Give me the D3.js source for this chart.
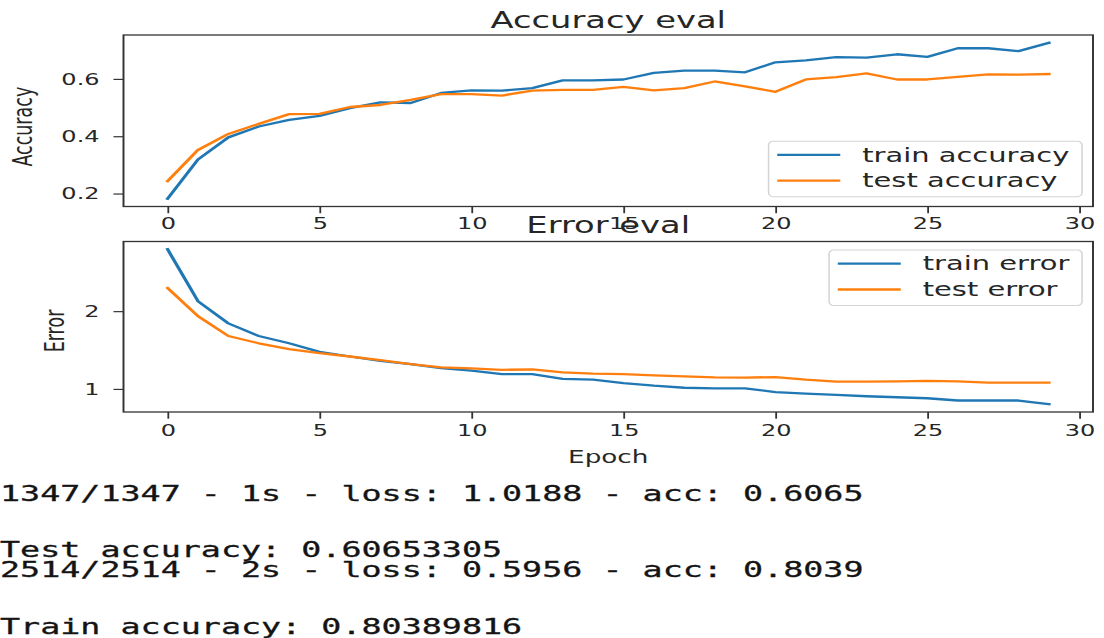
<!DOCTYPE html>
<html>
<head>
<meta charset="utf-8">
<script src="https://cdn.jsdelivr.net/npm/d3@7"></script>
<style>
  body { margin: 0; background: #fff; }
  svg { display: block; }
</style>
</head>
<body>
<div id="chart"></div>
<script>
// epochs on the x axis
var epochs = [0,1,2,3,4,5,6,7,8,9,10,11,12,13,14,15,16,17,18,19,20,21,22,23,24,25,26,27,28,29];

// accuracy per epoch
var trainAcc = [0.182,0.319,0.396,0.434,0.457,0.471,0.498,0.518,0.516,0.551,
                0.560,0.559,0.568,0.595,0.595,0.598,0.621,0.629,0.629,0.623,
                0.658,0.665,0.676,0.674,0.686,0.677,0.707,0.707,0.697,0.726];
var testAcc  = [0.243,0.352,0.408,0.443,0.477,0.478,0.502,0.509,0.527,0.547,
                0.547,0.542,0.559,0.562,0.562,0.572,0.560,0.568,0.591,0.574,
                0.555,0.598,0.606,0.619,0.598,0.598,0.607,0.616,0.615,0.617];

// error (loss) per epoch
var trainErr = [2.796,2.128,1.843,1.681,1.587,1.476,1.417,1.361,1.319,1.268,
                1.234,1.191,1.190,1.128,1.119,1.075,1.042,1.015,1.008,1.008,
                0.960,0.940,0.923,0.906,0.893,0.880,0.851,0.851,0.851,0.803];
var testErr  = [2.298,1.936,1.681,1.587,1.511,1.460,1.417,1.370,1.319,1.276,
                1.263,1.246,1.250,1.212,1.196,1.191,1.175,1.161,1.148,1.145,
                1.153,1.119,1.093,1.093,1.097,1.104,1.097,1.080,1.080,1.080];

// tick values and labels
var xTicks = [0,5,10,15,20,25,30];
var accTicks = [0.2,0.4,0.6];
var errTicks = [1,2];

// console output printed under the figure
var consoleLines = [
  "1347/1347 - 1s - loss: 1.0188 - acc: 0.6065",
  "Test accuracy: 0.60653305",
  "2514/2514 - 2s - loss: 0.5956 - acc: 0.8039",
  "Train accuracy: 0.80389816"
];
var consoleBaselines = [501, 557, 577, 634];

// The screenshot is stretched sideways, so everything is drawn
// in an unstretched space and then scaled by SX.
var SX = 1.5;
var blue = "#1f77b4", orange = "#ff7f0e";
var ink = "#262626";
var axLeft = 123.5 / SX, axRight = 1093 / SX;

var svg = d3.select("#chart").append("svg")
    .attr("width", 1104)
    .attr("height", 638);

svg.append("rect").attr("width", 1104).attr("height", 638).attr("fill", "#fff");

var root = svg.append("g").attr("transform", "scale(" + SX + ",1)");

var x = d3.scaleLinear()
    .domain([-1.45, 30.45])
    .range([axLeft, axRight]);

function padded(arrs) {
  var lo = d3.min(arrs, function(a) { return d3.min(a); });
  var hi = d3.max(arrs, function(a) { return d3.max(a); });
  var p = (hi - lo) * 0.05;
  return [lo - p, hi + p];
}

function drawPanel(cfg) {
  var g = root.append("g");
  var y = d3.scaleLinear()
      .domain(padded(cfg.series.map(function(s) { return s.values; })))
      .range([cfg.bottom, cfg.top]);

  // x axis
  var xa = g.append("g")
      .attr("transform", "translate(0," + cfg.bottom + ")")
      .call(d3.axisBottom(x).tickValues(xTicks).tickSize(6.7).tickPadding(cfg.xPad).tickFormat(d3.format("d")));
  xa.select(".domain").remove();
  xa.selectAll("line").attr("stroke", "#333").attr("stroke-width", 1.2);
  xa.selectAll("text").attr("fill", ink).style("font", "16px 'DejaVu Sans'");

  // y axis
  var ya = g.append("g")
      .attr("transform", "translate(" + axLeft + ",0)")
      .call(d3.axisLeft(y).tickValues(cfg.yTicks).tickSize(6.7).tickPadding(9.3).tickFormat(cfg.yFmt));
  ya.select(".domain").remove();
  ya.selectAll("line").attr("stroke", "#333").attr("stroke-width", 1.2);
  ya.selectAll("text").attr("fill", ink).attr("dy", "0.33em").style("font", "16px 'DejaVu Sans'");

  // lines
  var line = d3.line()
      .x(function(d, i) { return x(epochs[i]); })
      .y(function(d) { return y(d); });
  cfg.series.forEach(function(s) {
    g.append("path")
        .attr("d", line(s.values))
        .attr("fill", "none")
        .attr("stroke", s.color)
        .attr("stroke-width", 2.3)
        .attr("stroke-linejoin", "round")
        .attr("stroke-linecap", "square");
  });

  // frame
  g.append("rect")
      .attr("x", axLeft).attr("y", cfg.top)
      .attr("width", axRight - axLeft).attr("height", cfg.bottom - cfg.top)
      .attr("fill", "none").attr("stroke", "#333").attr("stroke-width", 1.3);

  // title
  g.append("text")
      .attr("x", (axLeft + axRight) / 2).attr("y", cfg.titleY)
      .attr("text-anchor", "middle").attr("fill", ink)
      .style("font", "22.5px 'DejaVu Sans'")
      .text(cfg.title);

  // y label
  g.append("text")
      .attr("transform", "translate(" + cfg.ylabelX + "," + cfg.ylabelY + ") rotate(-90)")
      .attr("text-anchor", "middle").attr("dy", "0.35em").attr("fill", ink)
      .style("font", "17.5px 'DejaVu Sans'")
      .text(cfg.ylabel);

  // legend
  var lg = g.append("g");
  var box = lg.append("rect")
      .attr("rx", 3).attr("ry", 4)
      .attr("fill", "#fff").attr("fill-opacity", 0.8)
      .attr("stroke", "#d4d4d4").attr("stroke-width", 1);
  var rows = [13.7, 39.5];
  var tw = 0;
  cfg.series.forEach(function(s, i) {
    lg.append("line")
        .attr("x1", 5.8).attr("x2", 47.8)
        .attr("y1", rows[i]).attr("y2", rows[i])
        .attr("stroke", s.color).attr("stroke-width", 2.3);
    var t = lg.append("text")
        .attr("x", 62.4).attr("y", rows[i]).attr("dy", "0.35em")
        .attr("fill", ink)
        .style("font", "19.3px 'DejaVu Sans'")
        .text(s.name);
    tw = Math.max(tw, t.node().getComputedTextLength());
  });
  var bw = 62.4 + tw + 8.5, bh = 55.5;
  box.attr("width", bw).attr("height", bh);
  var lx = axRight - 7.3 - bw;
  var ly = cfg.legendTop ? cfg.top + 8.5 : cfg.bottom - 9.8 - bh;
  lg.attr("transform", "translate(" + lx + "," + ly + ")");

  return g;
}

drawPanel({
  top: 35, bottom: 206.5, xPad: 4.8,
  series: [{name: "train accuracy", values: trainAcc, color: blue},
           {name: "test accuracy", values: testAcc, color: orange}],
  yTicks: accTicks, yFmt: d3.format(".1f"),
  title: "Accuracy eval", titleY: 28.5,
  ylabel: "Accuracy", ylabelX: 15.3, ylabelY: 126.7,
  legendTop: false
});

var bottomPanel = drawPanel({
  top: 241.5, bottom: 412, xPad: 5.5,
  series: [{name: "train error", values: trainErr, color: blue},
           {name: "test error", values: testErr, color: orange}],
  yTicks: errTicks, yFmt: d3.format("d"),
  title: "Error eval", titleY: 233,
  ylabel: "Error", ylabelX: 36.7, ylabelY: 331,
  legendTop: true
});

bottomPanel.append("text")
    .attr("x", (axLeft + axRight) / 2).attr("y", 463)
    .attr("text-anchor", "middle").attr("fill", ink)
    .style("font", "17.5px 'DejaVu Sans'")
    .text("Epoch");

// console text (own horizontal scale so the monospace cells match)
var CSX = 1.56;
svg.append("g")
    .attr("transform", "scale(" + CSX + ",1)")
    .selectAll("text")
    .data(consoleLines)
    .enter().append("text")
    .attr("x", 0)
    .attr("y", function(d, i) { return consoleBaselines[i]; })
    .attr("fill", "#141414")
    .attr("stroke", "#141414")
    .attr("stroke-width", 0.3)
    .style("font", "21.4px 'DejaVu Sans Mono'")
    .style("white-space", "pre")
    .text(function(d) { return d; });
</script>
</body>
</html>
